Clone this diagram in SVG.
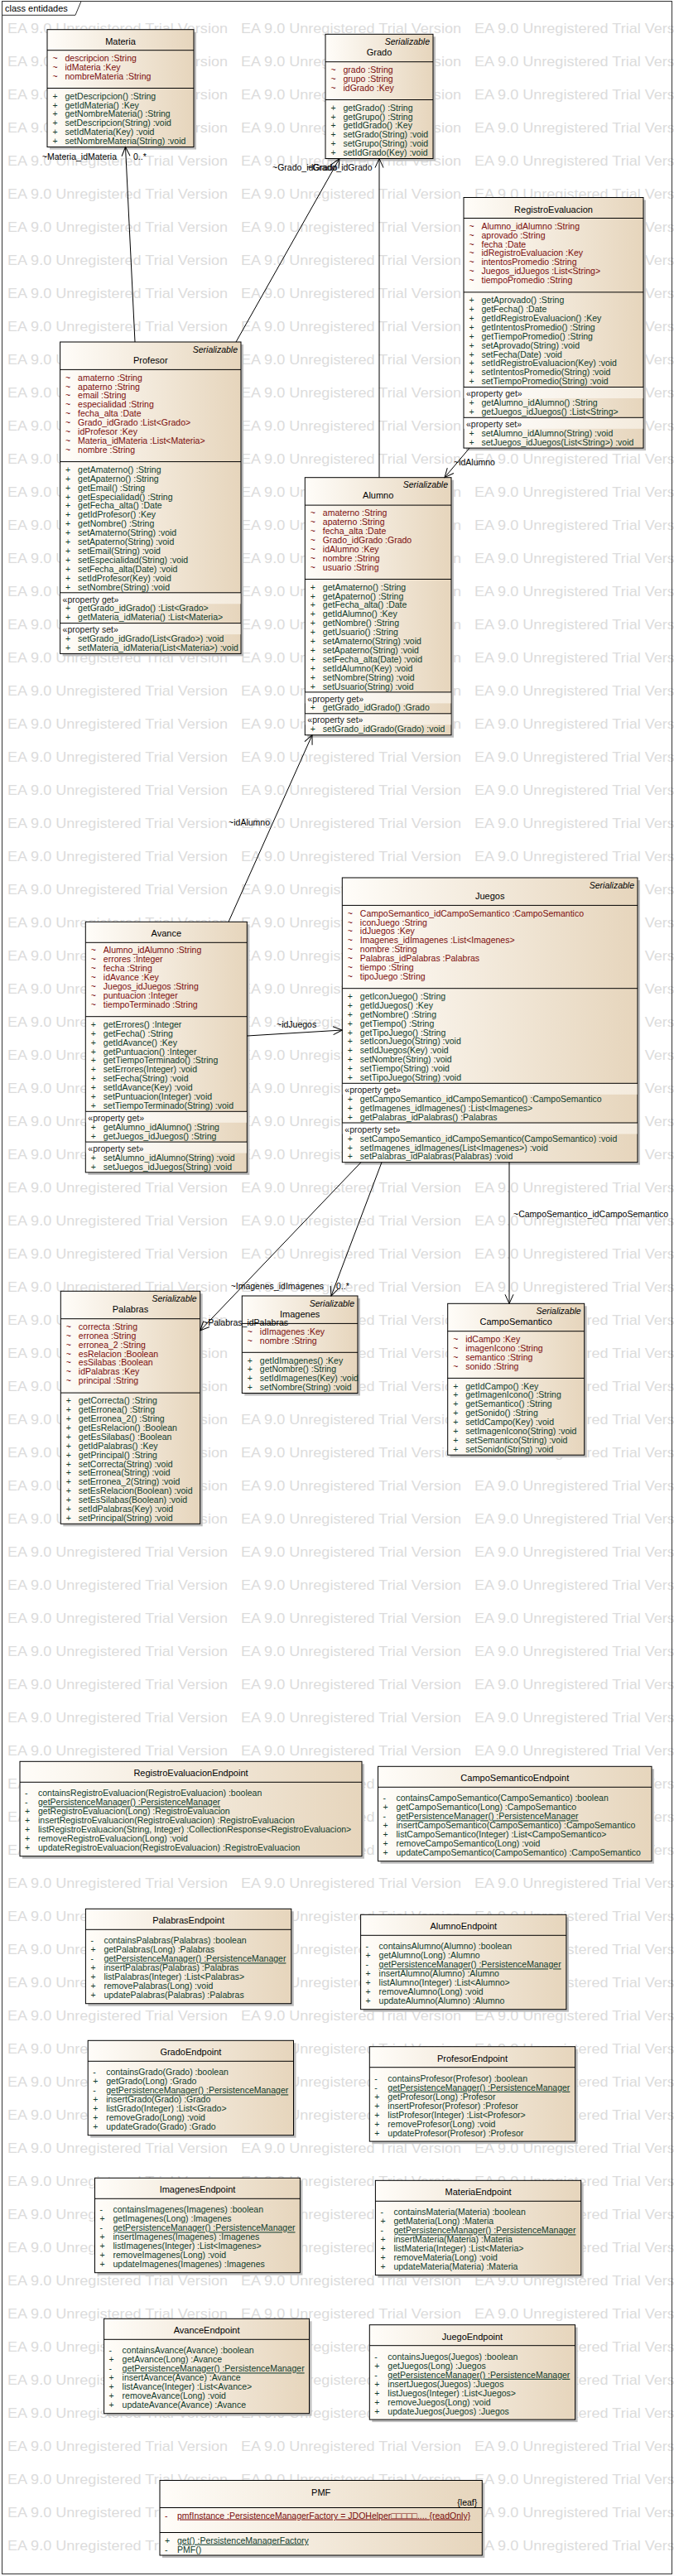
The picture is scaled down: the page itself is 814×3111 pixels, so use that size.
<svg xmlns="http://www.w3.org/2000/svg" width="814" height="3111" viewBox="0 0 814 3111">
<style>
.wm{font-size:17px;fill:#DCDCDC}
.bx{fill:url(#gf);stroke:#000;stroke-width:1}
.sh{fill:#BDBDBD}
.sp{stroke:#000;stroke-width:1}
.bd{fill:url(#gb)}
.ti{font-size:11px;fill:#000;text-anchor:middle}
.ster{font-style:italic;text-anchor:end;fill:#000}
.a{fill:#7B0C0C}
.o{fill:#0F3B2B}
.pl{fill:#1a1a1a}
.u{text-decoration:underline}
.cn{stroke:#000;stroke-width:1;fill:none;marker-end:url(#ah)}
.lb{fill:#000}
.st{fill:#000}
</style>
<defs>
<linearGradient id="gf" x1="0" y1="0" x2="1" y2="0">
<stop offset="0" stop-color="#FFFDF9"/>
<stop offset="1" stop-color="#E6D5BC"/>
</linearGradient>
<linearGradient id="gb" x1="0" y1="0" x2="1" y2="0">
<stop offset="0" stop-color="#FFFFFF"/>
<stop offset="1" stop-color="#F4EBDD"/>
</linearGradient>
<marker id="ah" viewBox="-12 -6 13 12" markerWidth="13" markerHeight="12" refX="0" refY="0" orient="auto" markerUnits="userSpaceOnUse">
<path d="M-11,-5 L0,0 L-11,5" fill="none" stroke="#000" stroke-width="1"/>
</marker>
<g id="wr" class="wm">
<text x="9" y="0" textLength="266" lengthAdjust="spacingAndGlyphs">EA 9.0 Unregistered Trial Version</text>
<text x="291" y="0" textLength="266" lengthAdjust="spacingAndGlyphs">EA 9.0 Unregistered Trial Version</text>
<text x="573" y="0" textLength="266" lengthAdjust="spacingAndGlyphs">EA 9.0 Unregistered Trial Version</text>
</g>
</defs>
<rect width="814" height="3111" fill="#fff"/>
<g font-family="'Liberation Sans', Arial, sans-serif" font-size="10.5px">
<g id="watermark">
<use href="#wr" y="40"/><use href="#wr" y="80"/><use href="#wr" y="120"/><use href="#wr" y="160"/><use href="#wr" y="200"/><use href="#wr" y="240"/><use href="#wr" y="280"/><use href="#wr" y="320"/><use href="#wr" y="360"/><use href="#wr" y="400"/>
<use href="#wr" y="440"/><use href="#wr" y="480"/><use href="#wr" y="520"/><use href="#wr" y="560"/><use href="#wr" y="600"/><use href="#wr" y="640"/><use href="#wr" y="680"/><use href="#wr" y="720"/><use href="#wr" y="760"/><use href="#wr" y="800"/>
<use href="#wr" y="840"/><use href="#wr" y="880"/><use href="#wr" y="920"/><use href="#wr" y="960"/><use href="#wr" y="1000"/><use href="#wr" y="1040"/><use href="#wr" y="1080"/><use href="#wr" y="1120"/><use href="#wr" y="1160"/><use href="#wr" y="1200"/>
<use href="#wr" y="1240"/><use href="#wr" y="1280"/><use href="#wr" y="1320"/><use href="#wr" y="1360"/><use href="#wr" y="1400"/><use href="#wr" y="1440"/><use href="#wr" y="1480"/><use href="#wr" y="1520"/><use href="#wr" y="1560"/><use href="#wr" y="1600"/>
<use href="#wr" y="1640"/><use href="#wr" y="1680"/><use href="#wr" y="1720"/><use href="#wr" y="1760"/><use href="#wr" y="1800"/><use href="#wr" y="1840"/><use href="#wr" y="1880"/><use href="#wr" y="1920"/><use href="#wr" y="1960"/><use href="#wr" y="2000"/>
<use href="#wr" y="2040"/><use href="#wr" y="2080"/><use href="#wr" y="2120"/><use href="#wr" y="2160"/><use href="#wr" y="2200"/><use href="#wr" y="2240"/><use href="#wr" y="2280"/><use href="#wr" y="2320"/><use href="#wr" y="2360"/><use href="#wr" y="2400"/>
<use href="#wr" y="2440"/><use href="#wr" y="2480"/><use href="#wr" y="2520"/><use href="#wr" y="2560"/><use href="#wr" y="2600"/><use href="#wr" y="2640"/><use href="#wr" y="2680"/><use href="#wr" y="2720"/><use href="#wr" y="2760"/><use href="#wr" y="2800"/>
<use href="#wr" y="2840"/><use href="#wr" y="2880"/><use href="#wr" y="2920"/><use href="#wr" y="2960"/><use href="#wr" y="3000"/><use href="#wr" y="3040"/><use href="#wr" y="3080"/>
</g>
<g id="frame">
<rect x="2.5" y="1.5" width="809" height="3107" fill="none" stroke="#333" stroke-width="1"/>
<path d="M2.5,18.3 H91 L98,1.5" fill="none" stroke="#333" stroke-width="1"/>
<text x="6" y="13.5" font-size="11px" fill="#000">class entidades</text>
</g>

<g id="materia" transform="translate(57,35.7)">
<rect class="sh" x="3" y="3" width="177" height="141.8"/>
<rect class="bx" width="177" height="141.8"/>
<text class="ti" x="88.5" y="18.2">Materia</text>
<line class="sp" x1="0" y1="25" x2="177" y2="25"/>
<text class="a" y="38.2"><tspan x="6.5">~</tspan><tspan x="21.5">descripcion :String</tspan></text>
<text class="a" y="49.1"><tspan x="6.5">~</tspan><tspan x="21.5">idMateria :Key</tspan></text>
<text class="a" y="60"><tspan x="6.5">~</tspan><tspan x="21.5">nombreMateria :String</tspan></text>
<line class="sp" x1="0" y1="70.8" x2="177" y2="70.8"/>
<text class="o" y="84"><tspan x="6.5">+</tspan><tspan x="21.5">getDescripcion() :String</tspan></text>
<text class="o" y="94.9"><tspan x="6.5">+</tspan><tspan x="21.5">getIdMateria() :Key</tspan></text>
<text class="o" y="105.8"><tspan x="6.5">+</tspan><tspan x="21.5">getNombreMateria() :String</tspan></text>
<text class="o" y="116.7"><tspan x="6.5">+</tspan><tspan x="21.5">setDescripcion(String) :void</tspan></text>
<text class="o" y="127.6"><tspan x="6.5">+</tspan><tspan x="21.5">setIdMateria(Key) :void</tspan></text>
<text class="o" y="138.5"><tspan x="6.5">+</tspan><tspan x="21.5">setNombreMateria(String) :void</tspan></text>
</g>

<g id="grado" transform="translate(393,41.3)">
<rect class="sh" x="3" y="3" width="130" height="150.2"/>
<rect class="bx" width="130" height="150.2"/>
<text class="ster" x="126" y="12.7">Serializable</text>
<text class="ti" x="65" y="25.7">Grado</text>
<line class="sp" x1="0" y1="33.4" x2="130" y2="33.4"/>
<text class="a" y="46.6"><tspan x="6.5">~</tspan><tspan x="21.5">grado :String</tspan></text>
<text class="a" y="57.5"><tspan x="6.5">~</tspan><tspan x="21.5">grupo :String</tspan></text>
<text class="a" y="68.4"><tspan x="6.5">~</tspan><tspan x="21.5">idGrado :Key</tspan></text>
<line class="sp" x1="0" y1="79.2" x2="130" y2="79.2"/>
<text class="o" y="92.4"><tspan x="6.5">+</tspan><tspan x="21.5">getGrado() :String</tspan></text>
<text class="o" y="103.3"><tspan x="6.5">+</tspan><tspan x="21.5">getGrupo() :String</tspan></text>
<text class="o" y="114.2"><tspan x="6.5">+</tspan><tspan x="21.5">getIdGrado() :Key</tspan></text>
<text class="o" y="125.1"><tspan x="6.5">+</tspan><tspan x="21.5">setGrado(String) :void</tspan></text>
<text class="o" y="136"><tspan x="6.5">+</tspan><tspan x="21.5">setGrupo(String) :void</tspan></text>
<text class="o" y="146.9"><tspan x="6.5">+</tspan><tspan x="21.5">setIdGrado(Key) :void</tspan></text>
</g>

<g id="registroevaluacion" transform="translate(560,238.5)">
<rect class="sh" x="3" y="3" width="217" height="302.6"/>
<rect class="bx" width="217" height="302.6"/>
<text class="ti" x="108.5" y="18.2">RegistroEvaluacion</text>
<line class="sp" x1="0" y1="25" x2="217" y2="25"/>
<text class="a" y="38.2"><tspan x="6.5">~</tspan><tspan x="21.5">Alumno_idAlumno :String</tspan></text>
<text class="a" y="49.1"><tspan x="6.5">~</tspan><tspan x="21.5">aprovado :String</tspan></text>
<text class="a" y="60"><tspan x="6.5">~</tspan><tspan x="21.5">fecha :Date</tspan></text>
<text class="a" y="70.9"><tspan x="6.5">~</tspan><tspan x="21.5">idRegistroEvaluacion :Key</tspan></text>
<text class="a" y="81.8"><tspan x="6.5">~</tspan><tspan x="21.5">intentosPromedio :String</tspan></text>
<text class="a" y="92.7"><tspan x="6.5">~</tspan><tspan x="21.5">Juegos_idJuegos :List&lt;String&gt;</tspan></text>
<text class="a" y="103.6"><tspan x="6.5">~</tspan><tspan x="21.5">tiempoPromedio :String</tspan></text>
<line class="sp" x1="0" y1="114.4" x2="217" y2="114.4"/>
<text class="o" y="127.6"><tspan x="6.5">+</tspan><tspan x="21.5">getAprovado() :String</tspan></text>
<text class="o" y="138.5"><tspan x="6.5">+</tspan><tspan x="21.5">getFecha() :Date</tspan></text>
<text class="o" y="149.4"><tspan x="6.5">+</tspan><tspan x="21.5">getIdRegistroEvaluacion() :Key</tspan></text>
<text class="o" y="160.3"><tspan x="6.5">+</tspan><tspan x="21.5">getIntentosPromedio() :String</tspan></text>
<text class="o" y="171.2"><tspan x="6.5">+</tspan><tspan x="21.5">getTiempoPromedio() :String</tspan></text>
<text class="o" y="182.1"><tspan x="6.5">+</tspan><tspan x="21.5">setAprovado(String) :void</tspan></text>
<text class="o" y="193"><tspan x="6.5">+</tspan><tspan x="21.5">setFecha(Date) :void</tspan></text>
<text class="o" y="203.9"><tspan x="6.5">+</tspan><tspan x="21.5">setIdRegistroEvaluacion(Key) :void</tspan></text>
<text class="o" y="214.8"><tspan x="6.5">+</tspan><tspan x="21.5">setIntentosPromedio(String) :void</tspan></text>
<text class="o" y="225.7"><tspan x="6.5">+</tspan><tspan x="21.5">setTiempoPromedio(String) :void</tspan></text>
<rect class="bd" x="0.5" y="229" width="216" height="13.5"/>
<line class="sp" x1="0" y1="229" x2="217" y2="229"/>
<text class="pl" x="3" y="240.7">«property get»</text>
<text class="o" y="251.6"><tspan x="6.5">+</tspan><tspan x="21.5">getAlumno_idAlumno() :String</tspan></text>
<text class="o" y="262.5"><tspan x="6.5">+</tspan><tspan x="21.5">getJuegos_idJuegos() :List&lt;String&gt;</tspan></text>
<rect class="bd" x="0.5" y="265.8" width="216" height="13.5"/>
<line class="sp" x1="0" y1="265.8" x2="217" y2="265.8"/>
<text class="pl" x="3" y="277.5">«property set»</text>
<text class="o" y="288.4"><tspan x="6.5">+</tspan><tspan x="21.5">setAlumno_idAlumno(String) :void</tspan></text>
<text class="o" y="299.3"><tspan x="6.5">+</tspan><tspan x="21.5">setJuegos_idJuegos(List&lt;String&gt;) :void</tspan></text>
</g>

<g id="profesor" transform="translate(72.6,413)">
<rect class="sh" x="3" y="3" width="218.4" height="376.4"/>
<rect class="bx" width="218.4" height="376.4"/>
<text class="ster" x="214.4" y="12.7">Serializable</text>
<text class="ti" x="109.2" y="25.7">Profesor</text>
<line class="sp" x1="0" y1="33.4" x2="218.4" y2="33.4"/>
<text class="a" y="46.6"><tspan x="6.5">~</tspan><tspan x="21.5">amaterno :String</tspan></text>
<text class="a" y="57.5"><tspan x="6.5">~</tspan><tspan x="21.5">apaterno :String</tspan></text>
<text class="a" y="68.4"><tspan x="6.5">~</tspan><tspan x="21.5">email :String</tspan></text>
<text class="a" y="79.3"><tspan x="6.5">~</tspan><tspan x="21.5">especialidad :String</tspan></text>
<text class="a" y="90.2"><tspan x="6.5">~</tspan><tspan x="21.5">fecha_alta :Date</tspan></text>
<text class="a" y="101.1"><tspan x="6.5">~</tspan><tspan x="21.5">Grado_idGrado :List&lt;Grado&gt;</tspan></text>
<text class="a" y="112"><tspan x="6.5">~</tspan><tspan x="21.5">idProfesor :Key</tspan></text>
<text class="a" y="122.9"><tspan x="6.5">~</tspan><tspan x="21.5">Materia_idMateria :List&lt;Materia&gt;</tspan></text>
<text class="a" y="133.8"><tspan x="6.5">~</tspan><tspan x="21.5">nombre :String</tspan></text>
<line class="sp" x1="0" y1="144.6" x2="218.4" y2="144.6"/>
<text class="o" y="157.8"><tspan x="6.5">+</tspan><tspan x="21.5">getAmaterno() :String</tspan></text>
<text class="o" y="168.7"><tspan x="6.5">+</tspan><tspan x="21.5">getApaterno() :String</tspan></text>
<text class="o" y="179.6"><tspan x="6.5">+</tspan><tspan x="21.5">getEmail() :String</tspan></text>
<text class="o" y="190.5"><tspan x="6.5">+</tspan><tspan x="21.5">getEspecialidad() :String</tspan></text>
<text class="o" y="201.4"><tspan x="6.5">+</tspan><tspan x="21.5">getFecha_alta() :Date</tspan></text>
<text class="o" y="212.3"><tspan x="6.5">+</tspan><tspan x="21.5">getIdProfesor() :Key</tspan></text>
<text class="o" y="223.2"><tspan x="6.5">+</tspan><tspan x="21.5">getNombre() :String</tspan></text>
<text class="o" y="234.1"><tspan x="6.5">+</tspan><tspan x="21.5">setAmaterno(String) :void</tspan></text>
<text class="o" y="245"><tspan x="6.5">+</tspan><tspan x="21.5">setApaterno(String) :void</tspan></text>
<text class="o" y="255.9"><tspan x="6.5">+</tspan><tspan x="21.5">setEmail(String) :void</tspan></text>
<text class="o" y="266.8"><tspan x="6.5">+</tspan><tspan x="21.5">setEspecialidad(String) :void</tspan></text>
<text class="o" y="277.7"><tspan x="6.5">+</tspan><tspan x="21.5">setFecha_alta(Date) :void</tspan></text>
<text class="o" y="288.6"><tspan x="6.5">+</tspan><tspan x="21.5">setIdProfesor(Key) :void</tspan></text>
<text class="o" y="299.5"><tspan x="6.5">+</tspan><tspan x="21.5">setNombre(String) :void</tspan></text>
<rect class="bd" x="0.5" y="302.8" width="217.4" height="13.5"/>
<line class="sp" x1="0" y1="302.8" x2="218.4" y2="302.8"/>
<text class="pl" x="3" y="314.5">«property get»</text>
<text class="o" y="325.4"><tspan x="6.5">+</tspan><tspan x="21.5">getGrado_idGrado() :List&lt;Grado&gt;</tspan></text>
<text class="o" y="336.3"><tspan x="6.5">+</tspan><tspan x="21.5">getMateria_idMateria() :List&lt;Materia&gt;</tspan></text>
<rect class="bd" x="0.5" y="339.6" width="217.4" height="13.5"/>
<line class="sp" x1="0" y1="339.6" x2="218.4" y2="339.6"/>
<text class="pl" x="3" y="351.3">«property set»</text>
<text class="o" y="362.2"><tspan x="6.5">+</tspan><tspan x="21.5">setGrado_idGrado(List&lt;Grado&gt;) :void</tspan></text>
<text class="o" y="373.1"><tspan x="6.5">+</tspan><tspan x="21.5">setMateria_idMateria(List&lt;Materia&gt;) :void</tspan></text>
</g>

<g id="alumno" transform="translate(368.3,576.7)">
<rect class="sh" x="3" y="3" width="176.7" height="311"/>
<rect class="bx" width="176.7" height="311"/>
<text class="ster" x="172.7" y="12.7">Serializable</text>
<text class="ti" x="88.4" y="25.7">Alumno</text>
<line class="sp" x1="0" y1="33.4" x2="176.7" y2="33.4"/>
<text class="a" y="46.6"><tspan x="6.5">~</tspan><tspan x="21.5">amaterno :String</tspan></text>
<text class="a" y="57.5"><tspan x="6.5">~</tspan><tspan x="21.5">apaterno :String</tspan></text>
<text class="a" y="68.4"><tspan x="6.5">~</tspan><tspan x="21.5">fecha_alta :Date</tspan></text>
<text class="a" y="79.3"><tspan x="6.5">~</tspan><tspan x="21.5">Grado_idGrado :Grado</tspan></text>
<text class="a" y="90.2"><tspan x="6.5">~</tspan><tspan x="21.5">idAlumno :Key</tspan></text>
<text class="a" y="101.1"><tspan x="6.5">~</tspan><tspan x="21.5">nombre :String</tspan></text>
<text class="a" y="112"><tspan x="6.5">~</tspan><tspan x="21.5">usuario :String</tspan></text>
<line class="sp" x1="0" y1="122.8" x2="176.7" y2="122.8"/>
<text class="o" y="136"><tspan x="6.5">+</tspan><tspan x="21.5">getAmaterno() :String</tspan></text>
<text class="o" y="146.9"><tspan x="6.5">+</tspan><tspan x="21.5">getApaterno() :String</tspan></text>
<text class="o" y="157.8"><tspan x="6.5">+</tspan><tspan x="21.5">getFecha_alta() :Date</tspan></text>
<text class="o" y="168.7"><tspan x="6.5">+</tspan><tspan x="21.5">getIdAlumno() :Key</tspan></text>
<text class="o" y="179.6"><tspan x="6.5">+</tspan><tspan x="21.5">getNombre() :String</tspan></text>
<text class="o" y="190.5"><tspan x="6.5">+</tspan><tspan x="21.5">getUsuario() :String</tspan></text>
<text class="o" y="201.4"><tspan x="6.5">+</tspan><tspan x="21.5">setAmaterno(String) :void</tspan></text>
<text class="o" y="212.3"><tspan x="6.5">+</tspan><tspan x="21.5">setApaterno(String) :void</tspan></text>
<text class="o" y="223.2"><tspan x="6.5">+</tspan><tspan x="21.5">setFecha_alta(Date) :void</tspan></text>
<text class="o" y="234.1"><tspan x="6.5">+</tspan><tspan x="21.5">setIdAlumno(Key) :void</tspan></text>
<text class="o" y="245"><tspan x="6.5">+</tspan><tspan x="21.5">setNombre(String) :void</tspan></text>
<text class="o" y="255.9"><tspan x="6.5">+</tspan><tspan x="21.5">setUsuario(String) :void</tspan></text>
<rect class="bd" x="0.5" y="259.2" width="175.7" height="13.5"/>
<line class="sp" x1="0" y1="259.2" x2="176.7" y2="259.2"/>
<text class="pl" x="3" y="270.9">«property get»</text>
<text class="o" y="281.8"><tspan x="6.5">+</tspan><tspan x="21.5">getGrado_idGrado() :Grado</tspan></text>
<rect class="bd" x="0.5" y="285.1" width="175.7" height="13.5"/>
<line class="sp" x1="0" y1="285.1" x2="176.7" y2="285.1"/>
<text class="pl" x="3" y="296.8">«property set»</text>
<text class="o" y="307.7"><tspan x="6.5">+</tspan><tspan x="21.5">setGrado_idGrado(Grado) :void</tspan></text>
</g>

<g id="juegos" transform="translate(413.3,1060)">
<rect class="sh" x="3" y="3" width="356.7" height="343.7"/>
<rect class="bx" width="356.7" height="343.7"/>
<text class="ster" x="352.7" y="12.7">Serializable</text>
<text class="ti" x="178.4" y="25.7">Juegos</text>
<line class="sp" x1="0" y1="33.4" x2="356.7" y2="33.4"/>
<text class="a" y="46.6"><tspan x="6.5">~</tspan><tspan x="21.5">CampoSemantico_idCampoSemantico :CampoSemantico</tspan></text>
<text class="a" y="57.5"><tspan x="6.5">~</tspan><tspan x="21.5">iconJuego :String</tspan></text>
<text class="a" y="68.4"><tspan x="6.5">~</tspan><tspan x="21.5">idJuegos :Key</tspan></text>
<text class="a" y="79.3"><tspan x="6.5">~</tspan><tspan x="21.5">Imagenes_idImagenes :List&lt;Imagenes&gt;</tspan></text>
<text class="a" y="90.2"><tspan x="6.5">~</tspan><tspan x="21.5">nombre :String</tspan></text>
<text class="a" y="101.1"><tspan x="6.5">~</tspan><tspan x="21.5">Palabras_idPalabras :Palabras</tspan></text>
<text class="a" y="112"><tspan x="6.5">~</tspan><tspan x="21.5">tiempo :String</tspan></text>
<text class="a" y="122.9"><tspan x="6.5">~</tspan><tspan x="21.5">tipoJuego :String</tspan></text>
<line class="sp" x1="0" y1="133.7" x2="356.7" y2="133.7"/>
<text class="o" y="146.9"><tspan x="6.5">+</tspan><tspan x="21.5">getIconJuego() :String</tspan></text>
<text class="o" y="157.8"><tspan x="6.5">+</tspan><tspan x="21.5">getIdJuegos() :Key</tspan></text>
<text class="o" y="168.7"><tspan x="6.5">+</tspan><tspan x="21.5">getNombre() :String</tspan></text>
<text class="o" y="179.6"><tspan x="6.5">+</tspan><tspan x="21.5">getTiempo() :String</tspan></text>
<text class="o" y="190.5"><tspan x="6.5">+</tspan><tspan x="21.5">getTipoJuego() :String</tspan></text>
<text class="o" y="201.4"><tspan x="6.5">+</tspan><tspan x="21.5">setIconJuego(String) :void</tspan></text>
<text class="o" y="212.3"><tspan x="6.5">+</tspan><tspan x="21.5">setIdJuegos(Key) :void</tspan></text>
<text class="o" y="223.2"><tspan x="6.5">+</tspan><tspan x="21.5">setNombre(String) :void</tspan></text>
<text class="o" y="234.1"><tspan x="6.5">+</tspan><tspan x="21.5">setTiempo(String) :void</tspan></text>
<text class="o" y="245"><tspan x="6.5">+</tspan><tspan x="21.5">setTipoJuego(String) :void</tspan></text>
<rect class="bd" x="0.5" y="248.3" width="355.7" height="13.5"/>
<line class="sp" x1="0" y1="248.3" x2="356.7" y2="248.3"/>
<text class="pl" x="3" y="260">«property get»</text>
<text class="o" y="270.9"><tspan x="6.5">+</tspan><tspan x="21.5">getCampoSemantico_idCampoSemantico() :CampoSemantico</tspan></text>
<text class="o" y="281.8"><tspan x="6.5">+</tspan><tspan x="21.5">getImagenes_idImagenes() :List&lt;Imagenes&gt;</tspan></text>
<text class="o" y="292.7"><tspan x="6.5">+</tspan><tspan x="21.5">getPalabras_idPalabras() :Palabras</tspan></text>
<rect class="bd" x="0.5" y="296" width="355.7" height="13.5"/>
<line class="sp" x1="0" y1="296" x2="356.7" y2="296"/>
<text class="pl" x="3" y="307.7">«property set»</text>
<text class="o" y="318.6"><tspan x="6.5">+</tspan><tspan x="21.5">setCampoSemantico_idCampoSemantico(CampoSemantico) :void</tspan></text>
<text class="o" y="329.5"><tspan x="6.5">+</tspan><tspan x="21.5">setImagenes_idImagenes(List&lt;Imagenes&gt;) :void</tspan></text>
<text class="o" y="340.4"><tspan x="6.5">+</tspan><tspan x="21.5">setPalabras_idPalabras(Palabras) :void</tspan></text>
</g>

<g id="avance" transform="translate(103.3,1113.3)">
<rect class="sh" x="3" y="3" width="195" height="302.6"/>
<rect class="bx" width="195" height="302.6"/>
<text class="ti" x="97.5" y="18.2">Avance</text>
<line class="sp" x1="0" y1="25" x2="195" y2="25"/>
<text class="a" y="38.2"><tspan x="6.5">~</tspan><tspan x="21.5">Alumno_idAlumno :String</tspan></text>
<text class="a" y="49.1"><tspan x="6.5">~</tspan><tspan x="21.5">errores :Integer</tspan></text>
<text class="a" y="60"><tspan x="6.5">~</tspan><tspan x="21.5">fecha :String</tspan></text>
<text class="a" y="70.9"><tspan x="6.5">~</tspan><tspan x="21.5">idAvance :Key</tspan></text>
<text class="a" y="81.8"><tspan x="6.5">~</tspan><tspan x="21.5">Juegos_idJuegos :String</tspan></text>
<text class="a" y="92.7"><tspan x="6.5">~</tspan><tspan x="21.5">puntuacion :Integer</tspan></text>
<text class="a" y="103.6"><tspan x="6.5">~</tspan><tspan x="21.5">tiempoTerminado :String</tspan></text>
<line class="sp" x1="0" y1="114.4" x2="195" y2="114.4"/>
<text class="o" y="127.6"><tspan x="6.5">+</tspan><tspan x="21.5">getErrores() :Integer</tspan></text>
<text class="o" y="138.5"><tspan x="6.5">+</tspan><tspan x="21.5">getFecha() :String</tspan></text>
<text class="o" y="149.4"><tspan x="6.5">+</tspan><tspan x="21.5">getIdAvance() :Key</tspan></text>
<text class="o" y="160.3"><tspan x="6.5">+</tspan><tspan x="21.5">getPuntuacion() :Integer</tspan></text>
<text class="o" y="171.2"><tspan x="6.5">+</tspan><tspan x="21.5">getTiempoTerminado() :String</tspan></text>
<text class="o" y="182.1"><tspan x="6.5">+</tspan><tspan x="21.5">setErrores(Integer) :void</tspan></text>
<text class="o" y="193"><tspan x="6.5">+</tspan><tspan x="21.5">setFecha(String) :void</tspan></text>
<text class="o" y="203.9"><tspan x="6.5">+</tspan><tspan x="21.5">setIdAvance(Key) :void</tspan></text>
<text class="o" y="214.8"><tspan x="6.5">+</tspan><tspan x="21.5">setPuntuacion(Integer) :void</tspan></text>
<text class="o" y="225.7"><tspan x="6.5">+</tspan><tspan x="21.5">setTiempoTerminado(String) :void</tspan></text>
<rect class="bd" x="0.5" y="229" width="194" height="13.5"/>
<line class="sp" x1="0" y1="229" x2="195" y2="229"/>
<text class="pl" x="3" y="240.7">«property get»</text>
<text class="o" y="251.6"><tspan x="6.5">+</tspan><tspan x="21.5">getAlumno_idAlumno() :String</tspan></text>
<text class="o" y="262.5"><tspan x="6.5">+</tspan><tspan x="21.5">getJuegos_idJuegos() :String</tspan></text>
<rect class="bd" x="0.5" y="265.8" width="194" height="13.5"/>
<line class="sp" x1="0" y1="265.8" x2="195" y2="265.8"/>
<text class="pl" x="3" y="277.5">«property set»</text>
<text class="o" y="288.4"><tspan x="6.5">+</tspan><tspan x="21.5">setAlumno_idAlumno(String) :void</tspan></text>
<text class="o" y="299.3"><tspan x="6.5">+</tspan><tspan x="21.5">setJuegos_idJuegos(String) :void</tspan></text>
</g>

<g id="palabras" transform="translate(73.3,1559.3)">
<rect class="sh" x="3" y="3" width="168.4" height="281"/>
<rect class="bx" width="168.4" height="281"/>
<text class="ster" x="164.4" y="12.7">Serializable</text>
<text class="ti" x="84.2" y="25.7">Palabras</text>
<line class="sp" x1="0" y1="33.4" x2="168.4" y2="33.4"/>
<text class="a" y="46.6"><tspan x="6.5">~</tspan><tspan x="21.5">correcta :String</tspan></text>
<text class="a" y="57.5"><tspan x="6.5">~</tspan><tspan x="21.5">erronea :String</tspan></text>
<text class="a" y="68.4"><tspan x="6.5">~</tspan><tspan x="21.5">erronea_2 :String</tspan></text>
<text class="a" y="79.3"><tspan x="6.5">~</tspan><tspan x="21.5">esRelacion :Boolean</tspan></text>
<text class="a" y="90.2"><tspan x="6.5">~</tspan><tspan x="21.5">esSilabas :Boolean</tspan></text>
<text class="a" y="101.1"><tspan x="6.5">~</tspan><tspan x="21.5">idPalabras :Key</tspan></text>
<text class="a" y="112"><tspan x="6.5">~</tspan><tspan x="21.5">principal :String</tspan></text>
<line class="sp" x1="0" y1="122.8" x2="168.4" y2="122.8"/>
<text class="o" y="136"><tspan x="6.5">+</tspan><tspan x="21.5">getCorrecta() :String</tspan></text>
<text class="o" y="146.9"><tspan x="6.5">+</tspan><tspan x="21.5">getErronea() :String</tspan></text>
<text class="o" y="157.8"><tspan x="6.5">+</tspan><tspan x="21.5">getErronea_2() :String</tspan></text>
<text class="o" y="168.7"><tspan x="6.5">+</tspan><tspan x="21.5">getEsRelacion() :Boolean</tspan></text>
<text class="o" y="179.6"><tspan x="6.5">+</tspan><tspan x="21.5">getEsSilabas() :Boolean</tspan></text>
<text class="o" y="190.5"><tspan x="6.5">+</tspan><tspan x="21.5">getIdPalabras() :Key</tspan></text>
<text class="o" y="201.4"><tspan x="6.5">+</tspan><tspan x="21.5">getPrincipal() :String</tspan></text>
<text class="o" y="212.3"><tspan x="6.5">+</tspan><tspan x="21.5">setCorrecta(String) :void</tspan></text>
<text class="o" y="223.2"><tspan x="6.5">+</tspan><tspan x="21.5">setErronea(String) :void</tspan></text>
<text class="o" y="234.1"><tspan x="6.5">+</tspan><tspan x="21.5">setErronea_2(String) :void</tspan></text>
<text class="o" y="245"><tspan x="6.5">+</tspan><tspan x="21.5">setEsRelacion(Boolean) :void</tspan></text>
<text class="o" y="255.9"><tspan x="6.5">+</tspan><tspan x="21.5">setEsSilabas(Boolean) :void</tspan></text>
<text class="o" y="266.8"><tspan x="6.5">+</tspan><tspan x="21.5">setIdPalabras(Key) :void</tspan></text>
<text class="o" y="277.7"><tspan x="6.5">+</tspan><tspan x="21.5">setPrincipal(String) :void</tspan></text>
</g>

<g id="imagenes" transform="translate(292.3,1565)">
<rect class="sh" x="3" y="3" width="139.7" height="117.5"/>
<rect class="bx" width="139.7" height="117.5"/>
<text class="ster" x="135.7" y="12.7">Serializable</text>
<text class="ti" x="69.9" y="25.7">Imagenes</text>
<line class="sp" x1="0" y1="33.4" x2="139.7" y2="33.4"/>
<text class="a" y="46.6"><tspan x="6.5">~</tspan><tspan x="21.5">idImagenes :Key</tspan></text>
<text class="a" y="57.5"><tspan x="6.5">~</tspan><tspan x="21.5">nombre :String</tspan></text>
<line class="sp" x1="0" y1="68.3" x2="139.7" y2="68.3"/>
<text class="o" y="81.5"><tspan x="6.5">+</tspan><tspan x="21.5">getIdImagenes() :Key</tspan></text>
<text class="o" y="92.4"><tspan x="6.5">+</tspan><tspan x="21.5">getNombre() :String</tspan></text>
<text class="o" y="103.3"><tspan x="6.5">+</tspan><tspan x="21.5">setIdImagenes(Key) :void</tspan></text>
<text class="o" y="114.2"><tspan x="6.5">+</tspan><tspan x="21.5">setNombre(String) :void</tspan></text>
</g>

<g id="camposemantico" transform="translate(540.7,1574.3)">
<rect class="sh" x="3" y="3" width="165" height="182.9"/>
<rect class="bx" width="165" height="182.9"/>
<text class="ster" x="161" y="12.7">Serializable</text>
<text class="ti" x="82.5" y="25.7">CampoSemantico</text>
<line class="sp" x1="0" y1="33.4" x2="165" y2="33.4"/>
<text class="a" y="46.6"><tspan x="6.5">~</tspan><tspan x="21.5">idCampo :Key</tspan></text>
<text class="a" y="57.5"><tspan x="6.5">~</tspan><tspan x="21.5">imagenIcono :String</tspan></text>
<text class="a" y="68.4"><tspan x="6.5">~</tspan><tspan x="21.5">semantico :String</tspan></text>
<text class="a" y="79.3"><tspan x="6.5">~</tspan><tspan x="21.5">sonido :String</tspan></text>
<line class="sp" x1="0" y1="90.1" x2="165" y2="90.1"/>
<text class="o" y="103.3"><tspan x="6.5">+</tspan><tspan x="21.5">getIdCampo() :Key</tspan></text>
<text class="o" y="114.2"><tspan x="6.5">+</tspan><tspan x="21.5">getImagenIcono() :String</tspan></text>
<text class="o" y="125.1"><tspan x="6.5">+</tspan><tspan x="21.5">getSemantico() :String</tspan></text>
<text class="o" y="136"><tspan x="6.5">+</tspan><tspan x="21.5">getSonido() :String</tspan></text>
<text class="o" y="146.9"><tspan x="6.5">+</tspan><tspan x="21.5">setIdCampo(Key) :void</tspan></text>
<text class="o" y="157.8"><tspan x="6.5">+</tspan><tspan x="21.5">setImagenIcono(String) :void</tspan></text>
<text class="o" y="168.7"><tspan x="6.5">+</tspan><tspan x="21.5">setSemantico(String) :void</tspan></text>
<text class="o" y="179.6"><tspan x="6.5">+</tspan><tspan x="21.5">setSonido(String) :void</tspan></text>
</g>

<g id="registroevaluacionendpoint" transform="translate(24,2127.3)">
<rect class="sh" x="3" y="3" width="413" height="114.4"/>
<rect class="bx" width="413" height="114.4"/>
<text class="ti" x="206.5" y="18.1">RegistroEvaluacionEndpoint</text>
<line class="sp" x1="0" y1="25" x2="413" y2="25"/>
<text class="o" y="42.1"><tspan x="6">-</tspan><tspan x="22">containsRegistroEvaluacion(RegistroEvaluacion) :boolean</tspan></text>
<text class="o" y="53.1"><tspan x="6">-</tspan><tspan x="22" class="u">getPersistenceManager() :PersistenceManager</tspan></text>
<text class="o" y="64.1"><tspan x="6">+</tspan><tspan x="22">getRegistroEvaluacion(Long) :RegistroEvaluacion</tspan></text>
<text class="o" y="75.1"><tspan x="6">+</tspan><tspan x="22">insertRegistroEvaluacion(RegistroEvaluacion) :RegistroEvaluacion</tspan></text>
<text class="o" y="86.1"><tspan x="6">+</tspan><tspan x="22">listRegistroEvaluacion(String, Integer) :CollectionResponse&lt;RegistroEvaluacion&gt;</tspan></text>
<text class="o" y="97.1"><tspan x="6">+</tspan><tspan x="22">removeRegistroEvaluacion(Long) :void</tspan></text>
<text class="o" y="108.1"><tspan x="6">+</tspan><tspan x="22">updateRegistroEvaluacion(RegistroEvaluacion) :RegistroEvaluacion</tspan></text>
</g>

<g id="camposemanticoendpoint" transform="translate(456.5,2133.3)">
<rect class="sh" x="3" y="3" width="330.5" height="114.4"/>
<rect class="bx" width="330.5" height="114.4"/>
<text class="ti" x="165.3" y="18.1">CampoSemanticoEndpoint</text>
<line class="sp" x1="0" y1="25" x2="330.5" y2="25"/>
<text class="o" y="42.1"><tspan x="6">-</tspan><tspan x="22">containsCampoSemantico(CampoSemantico) :boolean</tspan></text>
<text class="o" y="53.1"><tspan x="6">+</tspan><tspan x="22">getCampoSemantico(Long) :CampoSemantico</tspan></text>
<text class="o" y="64.1"><tspan x="6">-</tspan><tspan x="22" class="u">getPersistenceManager() :PersistenceManager</tspan></text>
<text class="o" y="75.1"><tspan x="6">+</tspan><tspan x="22">insertCampoSemantico(CampoSemantico) :CampoSemantico</tspan></text>
<text class="o" y="86.1"><tspan x="6">+</tspan><tspan x="22">listCampoSemantico(Integer) :List&lt;CampoSemantico&gt;</tspan></text>
<text class="o" y="97.1"><tspan x="6">+</tspan><tspan x="22">removeCampoSemantico(Long) :void</tspan></text>
<text class="o" y="108.1"><tspan x="6">+</tspan><tspan x="22">updateCampoSemantico(CampoSemantico) :CampoSemantico</tspan></text>
</g>

<g id="palabrasendpoint" transform="translate(103.4,2305.3)">
<rect class="sh" x="3" y="3" width="248.4" height="114.4"/>
<rect class="bx" width="248.4" height="114.4"/>
<text class="ti" x="124.2" y="18.1">PalabrasEndpoint</text>
<line class="sp" x1="0" y1="25" x2="248.4" y2="25"/>
<text class="o" y="42.1"><tspan x="6">-</tspan><tspan x="22">containsPalabras(Palabras) :boolean</tspan></text>
<text class="o" y="53.1"><tspan x="6">+</tspan><tspan x="22">getPalabras(Long) :Palabras</tspan></text>
<text class="o" y="64.1"><tspan x="6">-</tspan><tspan x="22" class="u">getPersistenceManager() :PersistenceManager</tspan></text>
<text class="o" y="75.1"><tspan x="6">+</tspan><tspan x="22">insertPalabras(Palabras) :Palabras</tspan></text>
<text class="o" y="86.1"><tspan x="6">+</tspan><tspan x="22">listPalabras(Integer) :List&lt;Palabras&gt;</tspan></text>
<text class="o" y="97.1"><tspan x="6">+</tspan><tspan x="22">removePalabras(Long) :void</tspan></text>
<text class="o" y="108.1"><tspan x="6">+</tspan><tspan x="22">updatePalabras(Palabras) :Palabras</tspan></text>
</g>

<g id="alumnoendpoint" transform="translate(435.6,2312.3)">
<rect class="sh" x="3" y="3" width="248.3" height="114.4"/>
<rect class="bx" width="248.3" height="114.4"/>
<text class="ti" x="124.2" y="18.1">AlumnoEndpoint</text>
<line class="sp" x1="0" y1="25" x2="248.3" y2="25"/>
<text class="o" y="42.1"><tspan x="6">-</tspan><tspan x="22">containsAlumno(Alumno) :boolean</tspan></text>
<text class="o" y="53.1"><tspan x="6">+</tspan><tspan x="22">getAlumno(Long) :Alumno</tspan></text>
<text class="o" y="64.1"><tspan x="6">-</tspan><tspan x="22" class="u">getPersistenceManager() :PersistenceManager</tspan></text>
<text class="o" y="75.1"><tspan x="6">+</tspan><tspan x="22">insertAlumno(Alumno) :Alumno</tspan></text>
<text class="o" y="86.1"><tspan x="6">+</tspan><tspan x="22">listAlumno(Integer) :List&lt;Alumno&gt;</tspan></text>
<text class="o" y="97.1"><tspan x="6">+</tspan><tspan x="22">removeAlumno(Long) :void</tspan></text>
<text class="o" y="108.1"><tspan x="6">+</tspan><tspan x="22">updateAlumno(Alumno) :Alumno</tspan></text>
</g>

<g id="gradoendpoint" transform="translate(106.2,2464.3)">
<rect class="sh" x="3" y="3" width="248.3" height="114.4"/>
<rect class="bx" width="248.3" height="114.4"/>
<text class="ti" x="124.2" y="18.1">GradoEndpoint</text>
<line class="sp" x1="0" y1="25" x2="248.3" y2="25"/>
<text class="o" y="42.1"><tspan x="6">-</tspan><tspan x="22">containsGrado(Grado) :boolean</tspan></text>
<text class="o" y="53.1"><tspan x="6">+</tspan><tspan x="22">getGrado(Long) :Grado</tspan></text>
<text class="o" y="64.1"><tspan x="6">-</tspan><tspan x="22" class="u">getPersistenceManager() :PersistenceManager</tspan></text>
<text class="o" y="75.1"><tspan x="6">+</tspan><tspan x="22">insertGrado(Grado) :Grado</tspan></text>
<text class="o" y="86.1"><tspan x="6">+</tspan><tspan x="22">listGrado(Integer) :List&lt;Grado&gt;</tspan></text>
<text class="o" y="97.1"><tspan x="6">+</tspan><tspan x="22">removeGrado(Long) :void</tspan></text>
<text class="o" y="108.1"><tspan x="6">+</tspan><tspan x="22">updateGrado(Grado) :Grado</tspan></text>
</g>

<g id="profesorendpoint" transform="translate(446.3,2471.7)">
<rect class="sh" x="3" y="3" width="248.3" height="114.4"/>
<rect class="bx" width="248.3" height="114.4"/>
<text class="ti" x="124.2" y="18.1">ProfesorEndpoint</text>
<line class="sp" x1="0" y1="25" x2="248.3" y2="25"/>
<text class="o" y="42.1"><tspan x="6">-</tspan><tspan x="22">containsProfesor(Profesor) :boolean</tspan></text>
<text class="o" y="53.1"><tspan x="6">-</tspan><tspan x="22" class="u">getPersistenceManager() :PersistenceManager</tspan></text>
<text class="o" y="64.1"><tspan x="6">+</tspan><tspan x="22">getProfesor(Long) :Profesor</tspan></text>
<text class="o" y="75.1"><tspan x="6">+</tspan><tspan x="22">insertProfesor(Profesor) :Profesor</tspan></text>
<text class="o" y="86.1"><tspan x="6">+</tspan><tspan x="22">listProfesor(Integer) :List&lt;Profesor&gt;</tspan></text>
<text class="o" y="97.1"><tspan x="6">+</tspan><tspan x="22">removeProfesor(Long) :void</tspan></text>
<text class="o" y="108.1"><tspan x="6">+</tspan><tspan x="22">updateProfesor(Profesor) :Profesor</tspan></text>
</g>

<g id="imagenesendpoint" transform="translate(114.5,2630.3)">
<rect class="sh" x="3" y="3" width="247.9" height="114.4"/>
<rect class="bx" width="247.9" height="114.4"/>
<text class="ti" x="124" y="18.1">ImagenesEndpoint</text>
<line class="sp" x1="0" y1="25" x2="247.9" y2="25"/>
<text class="o" y="42.1"><tspan x="6">-</tspan><tspan x="22">containsImagenes(Imagenes) :boolean</tspan></text>
<text class="o" y="53.1"><tspan x="6">+</tspan><tspan x="22">getImagenes(Long) :Imagenes</tspan></text>
<text class="o" y="64.1"><tspan x="6">-</tspan><tspan x="22" class="u">getPersistenceManager() :PersistenceManager</tspan></text>
<text class="o" y="75.1"><tspan x="6">+</tspan><tspan x="22">insertImagenes(Imagenes) :Imagenes</tspan></text>
<text class="o" y="86.1"><tspan x="6">+</tspan><tspan x="22">listImagenes(Integer) :List&lt;Imagenes&gt;</tspan></text>
<text class="o" y="97.1"><tspan x="6">+</tspan><tspan x="22">removeImagenes(Long) :void</tspan></text>
<text class="o" y="108.1"><tspan x="6">+</tspan><tspan x="22">updateImagenes(Imagenes) :Imagenes</tspan></text>
</g>

<g id="materiaendpoint" transform="translate(453.4,2633.3)">
<rect class="sh" x="3" y="3" width="248.3" height="114.4"/>
<rect class="bx" width="248.3" height="114.4"/>
<text class="ti" x="124.2" y="18.1">MateriaEndpoint</text>
<line class="sp" x1="0" y1="25" x2="248.3" y2="25"/>
<text class="o" y="42.1"><tspan x="6">-</tspan><tspan x="22">containsMateria(Materia) :boolean</tspan></text>
<text class="o" y="53.1"><tspan x="6">+</tspan><tspan x="22">getMateria(Long) :Materia</tspan></text>
<text class="o" y="64.1"><tspan x="6">-</tspan><tspan x="22" class="u">getPersistenceManager() :PersistenceManager</tspan></text>
<text class="o" y="75.1"><tspan x="6">+</tspan><tspan x="22">insertMateria(Materia) :Materia</tspan></text>
<text class="o" y="86.1"><tspan x="6">+</tspan><tspan x="22">listMateria(Integer) :List&lt;Materia&gt;</tspan></text>
<text class="o" y="97.1"><tspan x="6">+</tspan><tspan x="22">removeMateria(Long) :void</tspan></text>
<text class="o" y="108.1"><tspan x="6">+</tspan><tspan x="22">updateMateria(Materia) :Materia</tspan></text>
</g>

<g id="avanceendpoint" transform="translate(125.6,2800.3)">
<rect class="sh" x="3" y="3" width="247.9" height="114.4"/>
<rect class="bx" width="247.9" height="114.4"/>
<text class="ti" x="124" y="18.1">AvanceEndpoint</text>
<line class="sp" x1="0" y1="25" x2="247.9" y2="25"/>
<text class="o" y="42.1"><tspan x="6">-</tspan><tspan x="22">containsAvance(Avance) :boolean</tspan></text>
<text class="o" y="53.1"><tspan x="6">+</tspan><tspan x="22">getAvance(Long) :Avance</tspan></text>
<text class="o" y="64.1"><tspan x="6">-</tspan><tspan x="22" class="u">getPersistenceManager() :PersistenceManager</tspan></text>
<text class="o" y="75.1"><tspan x="6">+</tspan><tspan x="22">insertAvance(Avance) :Avance</tspan></text>
<text class="o" y="86.1"><tspan x="6">+</tspan><tspan x="22">listAvance(Integer) :List&lt;Avance&gt;</tspan></text>
<text class="o" y="97.1"><tspan x="6">+</tspan><tspan x="22">removeAvance(Long) :void</tspan></text>
<text class="o" y="108.1"><tspan x="6">+</tspan><tspan x="22">updateAvance(Avance) :Avance</tspan></text>
</g>

<g id="juegoendpoint" transform="translate(446.3,2807.7)">
<rect class="sh" x="3" y="3" width="248.3" height="114.4"/>
<rect class="bx" width="248.3" height="114.4"/>
<text class="ti" x="124.2" y="18.1">JuegoEndpoint</text>
<line class="sp" x1="0" y1="25" x2="248.3" y2="25"/>
<text class="o" y="42.1"><tspan x="6">-</tspan><tspan x="22">containsJuegos(Juegos) :boolean</tspan></text>
<text class="o" y="53.1"><tspan x="6">+</tspan><tspan x="22">getJuegos(Long) :Juegos</tspan></text>
<text class="o" y="64.1"><tspan x="6">-</tspan><tspan x="22" class="u">getPersistenceManager() :PersistenceManager</tspan></text>
<text class="o" y="75.1"><tspan x="6">+</tspan><tspan x="22">insertJuegos(Juegos) :Juegos</tspan></text>
<text class="o" y="86.1"><tspan x="6">+</tspan><tspan x="22">listJuegos(Integer) :List&lt;Juegos&gt;</tspan></text>
<text class="o" y="97.1"><tspan x="6">+</tspan><tspan x="22">removeJuegos(Long) :void</tspan></text>
<text class="o" y="108.1"><tspan x="6">+</tspan><tspan x="22">updateJuegos(Juegos) :Juegos</tspan></text>
</g>

<g id="pmf" transform="translate(193,2995.5)">
<rect class="sh" x="3" y="3" width="389.3" height="90.5"/>
<rect class="bx" width="389.3" height="90.5"/>
<text class="ti" x="194.7" y="18.2">PMF</text>
<text class="st" x="383.3" y="30" text-anchor="end">{leaf}</text>
<line class="sp" x1="0" y1="33" x2="389.3" y2="33"/>
<text class="a" y="46"><tspan x="6">-</tspan><tspan x="21" class="u">pmfInstance :PersistenceManagerFactory = JDOHelper□□□□□.... {readOnly}</tspan></text>
<line class="sp" x1="0" y1="63" x2="389.3" y2="63"/>
<text class="o" y="76.2"><tspan x="6">+</tspan><tspan x="21" class="u">get() :PersistenceManagerFactory</tspan></text>
<text class="o" y="87.1"><tspan x="6">-</tspan><tspan x="21">PMF()</tspan></text>
</g>

<g id="connectors">
<path class="cn" d="M163,413 L151.5,177.5"/>
<path class="cn" d="M285,413 L410,191.5"/>
<path class="cn" d="M458,576.7 L458,191.5"/>
<path class="cn" d="M567,541.1 L537,576.7"/>
<path class="cn" d="M276,1113.3 L377,887.7"/>
<path class="cn" d="M298.3,1251 L413.3,1244"/>
<path class="cn" d="M436,1403.7 L241.7,1607"/>
<path class="cn" d="M461,1403.7 L400,1565"/>
<path class="cn" d="M615,1403.7 L615,1574.3"/>
<text class="lb" x="141" y="193" text-anchor="end">~Materia_idMateria</text>
<text class="lb" x="161" y="193">0..*</text>
<text class="lb" x="329" y="206">~Grado_idGrado</text>
<text class="lb" x="371" y="206">~Grado_idGrado</text>
<text class="lb" x="548" y="562">~idAlumno</text>
<text class="lb" x="326" y="997" text-anchor="end">~idAlumno</text>
<text class="lb" x="334" y="1241">~idJuegos</text>
<text class="lb" x="245" y="1601">~Palabras_idPalabras</text>
<text class="lb" x="391" y="1557" text-anchor="end">~Imagenes_idImagenes</text>
<text class="lb" x="406" y="1557">0..*</text>
<text class="lb" x="620" y="1470">~CampoSemantico_idCampoSemantico</text>
</g>
</g>
</svg>
